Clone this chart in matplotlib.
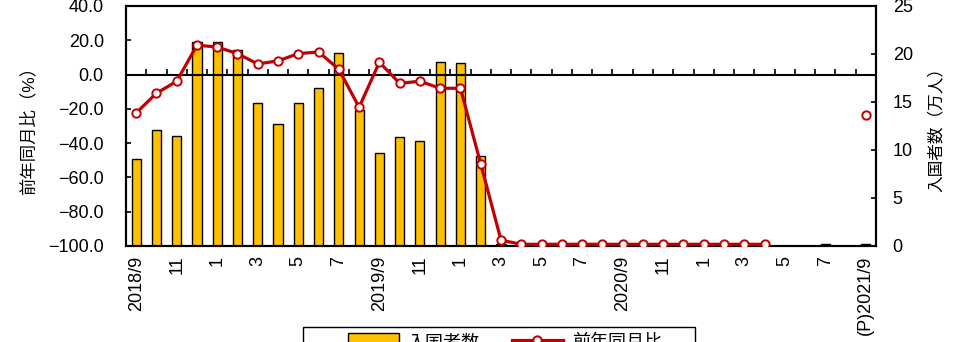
import numpy as np
import matplotlib
matplotlib.use("Agg")
import matplotlib.pyplot as plt
from matplotlib.ticker import FuncFormatter
from matplotlib.patches import Rectangle
from matplotlib.lines import Line2D

plt.rcParams['font.family'] = ['Liberation Sans', 'Noto Sans CJK JP']

# months 2018/9 .. 2021/9
month_labels = ["2018/9", "", "11", "", "1", "", "3", "", "5", "", "7", "",
                "2019/9", "", "11", "", "1", "", "3", "", "5", "", "7", "",
                "2020/9", "", "11", "", "1", "", "3", "", "5", "", "7", "",
                "(P)2021/9"]

# 入国者数 (万人)
visitors = [9.1, 12.1, 11.5, 21.2, 21.2, 20.4, 14.9, 12.7, 14.9, 16.5, 20.1, 14.2,
            9.7, 11.4, 10.9, 19.2, 19.1, 9.4, 0.2, 0.02, 0.02, 0.02, 0.02, 0.02,
            0.02, 0.02, 0.02, 0.02, 0.02, 0.02, 0.02, 0.02, 0.0, 0.0, 0.2, 0.0,
            0.2]

# 前年同月比 (%)
yoy = [-22.4, -10.9, -3.9, 17.1, 16.1, 12.2, 6.2, 8.0, 12.2, 13.2, 3.1, -19.1,
       7.2, -5.1, -3.9, -8.0, -8.0, -52.1, -96.6, -99.0, -99.0, -99.0, -99.0, -99.0,
       -99.0, -99.0, -99.0, -99.0, -99.0, -99.0, -99.0, -99.0, np.nan, np.nan, np.nan, np.nan,
       -23.3]

bar_color = "#FFC000"
line_color = "#C00000"

x = np.arange(len(month_labels))

fig = plt.figure(figsize=(9.66, 3.42), dpi=100)
ax = fig.add_axes([126 / 966, 1 - 246 / 342, 750 / 966, 240 / 342])
ax2 = ax.twinx()
ax3 = ax.twiny()

# bars on right axis
ax2.bar(x, visitors, width=0.45, color=bar_color, edgecolor="black", linewidth=1.0)
ax2.set_ylim(0, 25)
ax2.set_yticks([0, 5, 10, 15, 20, 25])
ax2.tick_params(axis='y', direction='in', length=3.5, width=1.2, labelsize=13, pad=12)
ax2.set_ylabel("入国者数（万人）", fontsize=12)
ax2.yaxis.set_label_coords(1.069, 0.5)

# line on left axis
ax.plot(x, yoy, color=line_color, lw=2.3, marker='o', ms=6, mfc='white',
        mec=line_color, mew=1.4, zorder=5)
ax.set_ylim(-100, 40)
ax.set_yticks(np.arange(-100, 41, 20))
ax.yaxis.set_major_formatter(FuncFormatter(lambda v, p: f"{v:.1f}".replace('-', '\u2212')))
ax.tick_params(axis='y', direction='in', length=3.5, width=1.2, labelsize=13, pad=16)
ax.set_ylabel("前年同月比（%）", fontsize=12.5)
ax.yaxis.set_label_coords(-0.119, 0.5)

ax.set_xlim(-0.5, len(x) - 0.5)
ax.set_xticks(x)
ax.set_xticklabels(month_labels, rotation=90, fontsize=13, va='top')
ax.tick_params(axis='x', length=0, pad=7)

# zero line with month ticks
ax3.set_xlim(ax.get_xlim())
ax3.spines['bottom'].set_position(('data', 0))
ax3.xaxis.set_ticks_position('bottom')
ax3.set_xticks(x[:-1] + 0.5)
ax3.tick_params(axis='x', direction='in', length=4, width=1.2, labelbottom=False, labeltop=False)
for s in ['top', 'left', 'right']:
    ax3.spines[s].set_visible(False)
ax3.spines['bottom'].set_linewidth(1.5)
ax3.patch.set_visible(False)

for a in (ax, ax2):
    for s in a.spines.values():
        s.set_linewidth(1.5)

ax2.set_zorder(1)
ax3.set_zorder(2)
ax.set_zorder(3)
ax.patch.set_visible(False)
ax2.patch.set_visible(True)
ax2.patch.set_facecolor("white")

# legend at bottom
handles = [Rectangle((0, 0), 1, 1, facecolor=bar_color, edgecolor="black", linewidth=1.0),
           Line2D([], [], color=line_color, lw=2.3, marker='o', ms=6, mfc='white',
                  mec=line_color, mew=1.4)]
fig.legend(handles, ["入国者数", "前年同月比"], loc='upper left', ncol=2,
           bbox_to_anchor=(339 / 966, 1 - 324 / 342), frameon=False, fontsize=13,
           handlelength=2.8, handletextpad=0.5, columnspacing=1.8, borderpad=0,
           handleheight=1.0)
fig.patches.append(Rectangle((303 / 966, -0.1), (695 - 303) / 966, 0.1 + (342 - 327) / 342,
                             transform=fig.transFigure, fill=False, edgecolor="black",
                             linewidth=1.0))

fig.savefig("out.png", dpi=100)
